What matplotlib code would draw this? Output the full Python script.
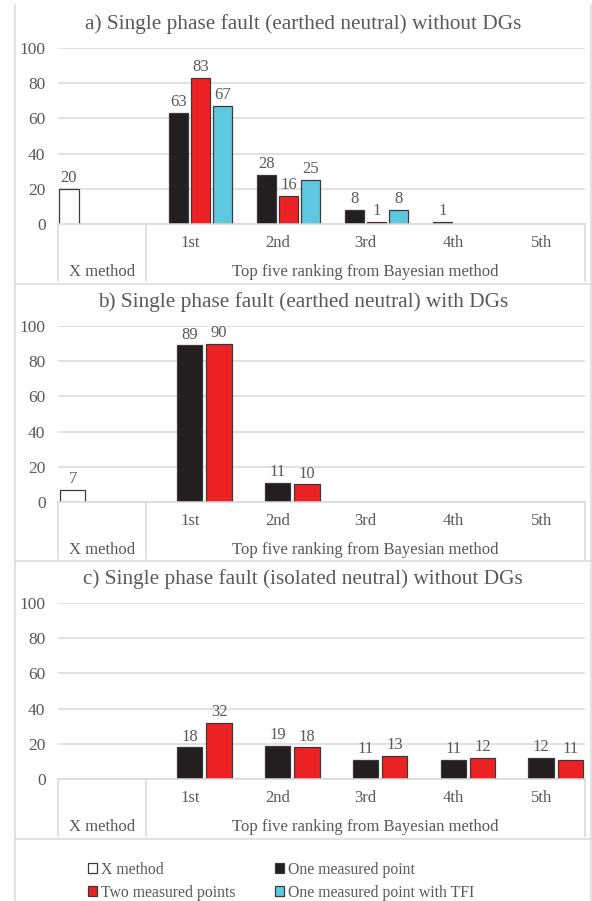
import matplotlib.pyplot as plt
from matplotlib.lines import Line2D
from matplotlib.patches import Patch

# categories and values
categories = ["X method", "1st", "2nd", "3rd", "4th", "5th"]
group_labels = ["X method", "Top five ranking from Bayesian method"]
titles = [
    "a) Single phase fault (earthed neutral) without DGs",
    "b) Single phase fault (earthed neutral) with DGs",
    "c) Single phase fault (isolated neutral) without DGs",
]
series_names = ["X method", "One measured point", "Two measured points",
                "One measured point with TFI"]

x_method = [20, 7, None]
one_point = [
    [63, 28, 8, 1, None],
    [89, 11, None, None, None],
    [18, 19, 11, 11, 12],
]
two_points = [
    [83, 16, 1, None, None],
    [90, 10, None, None, None],
    [32, 18, 13, 12, 11],
]
tfi_point = [
    [67, 25, 8, None, None],
    None,
    None,
]

W, H = 592, 901
FONT = "Liberation Serif"
TXT = "#595959"
GRID = "#D9D9D9"
EDGE = "#3a3a3a"
COLORS = ["white", "#231F20", "#ED2224", "#5EC8E0"]
FS = 12

plt.rcParams["font.family"] = FONT

fig = plt.figure(figsize=(W / 100, H / 100), dpi=100)


def fx(x):
    return x / W


def fy(y):
    return 1 - y / H


def hline(y, x0, x1):
    fig.add_artist(Line2D([fx(x0), fx(x1)], [fy(y), fy(y)], color=GRID, lw=1.1))


def vline(x, y0, y1):
    fig.add_artist(Line2D([fx(x), fx(x)], [fy(y0), fy(y1)], color=GRID, lw=1.1))


# chart boxes
vline(15, 5, 901)
vline(591, 5, 901)
for yb in (283.5, 561, 839):
    hline(yb, 15, 591)

tops = [48, 326, 603]
PLOT_H = 176
X0, X1 = 58, 585

for i, top in enumerate(tops):
    ax = fig.add_axes([fx(X0), fy(top + PLOT_H), (X1 - X0) / W, PLOT_H / H])
    ax.set_xlim(0, 6)
    ax.set_ylim(0, 100)
    for s in ax.spines.values():
        s.set_visible(False)
    ax.set_yticks(range(0, 101, 20))
    ax.tick_params(axis="y", length=0, pad=9, labelsize=12.5, labelcolor=TXT)
    ax.set_xticks([])
    ax.grid(axis="y", color=GRID, lw=1.1)
    ax.set_axisbelow(True)

    groups = [one_point[i], two_points[i]]
    if tfi_point[i] is not None:
        groups.append(tfi_point[i])
    n = len(groups) + 1
    slot = 1.0 / n
    bw = slot * 0.87

    # X method bar, first slot of its cluster
    if x_method[i] is not None:
        b = ax.bar(slot / 2, x_method[i], width=bw, color=COLORS[0],
                   edgecolor=EDGE, lw=0.9)
        ax.bar_label(b, labels=[str(x_method[i])], padding=2, fontsize=FS,
                     color=TXT)

    for k, vals in enumerate(groups):
        xs = [c + 1 + (k + 1) * slot + slot / 2 for c in range(5)
              if vals[c] is not None]
        hs = [v for v in vals if v is not None]
        b = ax.bar(xs, hs, width=bw, color=COLORS[k + 1], edgecolor=EDGE, lw=0.9)
        ax.bar_label(b, labels=[str(v) for v in hs], padding=2, fontsize=FS,
                     color=TXT)

    # multi-level category axis
    y0 = top + PLOT_H
    hline(y0, X0, X1)
    for xv in (X0, 146, X1):
        vline(xv, y0, y0 + 57)
    for c, lab in enumerate(categories[1:]):
        cx = X0 + (X1 - X0) * (c + 1.5) / 6
        fig.text(fx(cx), fy(y0 + 19), lab, ha="center", va="center",
                 fontsize=FS, color=TXT)
    fig.text(fx(102), fy(y0 + 48), group_labels[0], ha="center", va="center",
             fontsize=FS, color=TXT)
    fig.text(fx(365), fy(y0 + 48), group_labels[1], ha="center", va="center",
             fontsize=FS, color=TXT)

    fig.text(fx(303), fy(top - 24), titles[i], ha="center", va="center",
             fontsize=15.3, color=TXT)

handles = [Patch(facecolor=c, edgecolor=EDGE, lw=0.9) for c in COLORS]
order = [0, 2, 1, 3]
fig.legend([handles[j] for j in order], [series_names[j] for j in order],
           ncol=2, loc="upper left", bbox_to_anchor=(fx(80), fy(854)),
           frameon=False, fontsize=11.3, handlelength=0.6, handleheight=0.6,
           handletextpad=0.25, columnspacing=2.5, labelspacing=0.45,
           borderpad=0, labelcolor=TXT)

fig.savefig("out.png", dpi=100)
